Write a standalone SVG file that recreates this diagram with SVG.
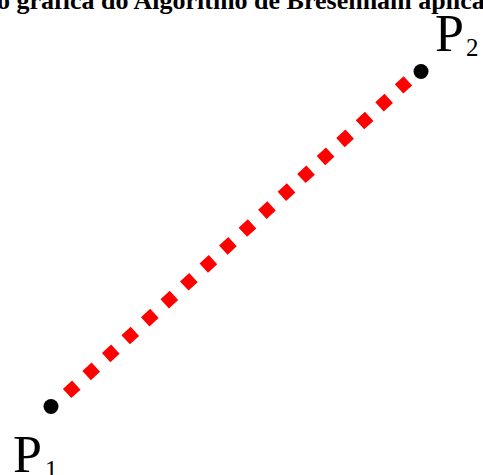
<svg xmlns="http://www.w3.org/2000/svg" width="483" height="475" viewBox="0 0 483 475">
<style>
.title{font-family:"Liberation Serif","Times New Roman",serif;font-weight:bold;font-size:26px;fill:#000}
.lbl{font-family:"Liberation Serif","Times New Roman",serif;font-size:52px;fill:#000}
.sub{font-family:"Liberation Serif","Times New Roman",serif;font-size:25px;fill:#000}
.pt{fill:#000}
</style>
<rect width="483" height="475" fill="#fff"/>
<text class="title" x="-3" y="9">o gráfica do Algoritmo de Bresenham aplica</text>
<g id="connectors">
<line x1="67.1" y1="393.5" x2="407.9" y2="80.8" stroke="#ff0000" stroke-width="12.5" stroke-dasharray="12.5 14"/>
</g>
<g id="P1">
<circle class="pt" cx="51" cy="406.5" r="7.5"/>
<text class="lbl" x="13" y="472">P</text>
<text class="sub" x="45" y="478">1</text>
</g>
<g id="P2">
<circle class="pt" cx="421" cy="71.5" r="7.5"/>
<text class="lbl" x="435" y="51">P</text>
<text class="sub" x="466" y="56">2</text>
</g>
</svg>
